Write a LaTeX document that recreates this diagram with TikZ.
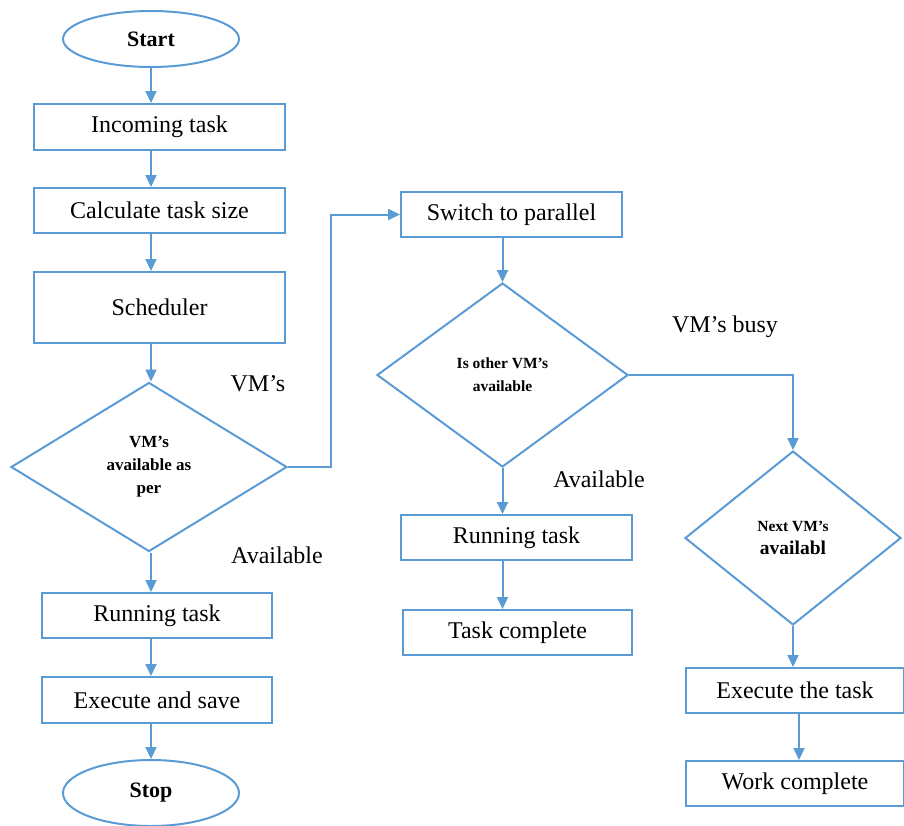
\documentclass[tikz,border=0pt]{standalone}
\usepackage{fontspec}
\setmainfont{Liberation Serif}
\usetikzlibrary{shapes.geometric,arrows.meta}
\definecolor{flowblue}{HTML}{5B9BD5}
\tikzset{
  boxnode/.style={draw=flowblue,line width=2pt,rectangle,inner sep=0pt,font=\fontsize{24}{27}\selectfont},
  termnode/.style={draw=flowblue,line width=2pt,ellipse,inner sep=0pt,font=\fontsize{22}{25}\selectfont\bfseries},
  decnode/.style={draw=flowblue,line width=2pt,diamond,inner sep=0pt,align=center,font=\fontsize{15.5}{23}\selectfont\bfseries},
  lbl/.style={inner sep=0pt,font=\fontsize{24}{27}\selectfont},
  arr/.style={draw=flowblue,line width=2pt,-{Triangle[width=11pt,length=12pt]}}
}
\begin{document}
\begin{tikzpicture}[x=1pt,y=-1pt]
\useasboundingbox (0,0) rectangle (904,825);
% left column
\node[termnode,minimum width=176pt,minimum height=56pt] (start) at (151,39) {Start};
\node[boxnode,minimum width=251pt,minimum height=46pt] (inc) at (159.5,127) {Incoming task};
\node[boxnode,minimum width=251pt,minimum height=45pt] (calc) at (159.5,210.5) {Calculate task size};
\node[boxnode,minimum width=251pt,minimum height=71pt] (sched) at (159.5,307.5) {Scheduler};
\node[decnode,minimum width=276pt,minimum height=169pt] (d1) at (149,467) {{\fontsize{17}{23}\selectfont VM’s}\\{\fontsize{17}{23}\selectfont available as}\\{\fontsize{17}{23}\selectfont per}};
\node[boxnode,minimum width=230pt,minimum height=45pt] (run1) at (157,615.5) {Running task};
\node[boxnode,minimum width=230pt,minimum height=46pt] (exe) at (157,700) {Execute and save};
\node[termnode,minimum width=176pt,minimum height=66pt] (stop) at (151,793) {Stop};
% middle column
\node[boxnode,minimum width=221pt,minimum height=45pt] (sw) at (511.5,214.5) {Switch to parallel};
\node[decnode,minimum width=251pt,minimum height=184pt] (d2) at (502.5,375) {Is other VM’s\\available};
\node[boxnode,minimum width=231pt,minimum height=45pt] (run2) at (516.5,537.5) {Running task};
\node[boxnode,minimum width=229pt,minimum height=45pt] (tc) at (517.5,632.5) {Task complete};
% right column
\node[decnode,minimum width=216pt,minimum height=174pt] (d3) at (793,538) {Next VM’s\\{\fontsize{19.5}{23}\selectfont availabl}};
\node[boxnode,minimum width=218pt,minimum height=45pt] (ext) at (795,690.5) {Execute the task};
\node[boxnode,minimum width=218pt,minimum height=45pt] (wc) at (795,783.5) {Work complete};
% labels
\node[lbl] (l1) at (258,384) {VM’s};
\node[lbl] (l2) at (277,555) {Available};
\node[lbl] (l3) at (599,479) {Available};
\node[lbl] (l4) at (725,327) {VM’s busy};
% connectors
\coordinate (c1) at (331,467);
\draw[arr] (start.south) -- (start.south |- inc.north);
\draw[arr] (start.south |- inc.south) -- (start.south |- calc.north);
\draw[arr] (start.south |- calc.south) -- (start.south |- sched.north);
\draw[arr] (start.south |- sched.south) -- (start.south |- d1.north);
\draw[arr] (start.south |- d1.south) -- (start.south |- run1.north);
\draw[arr] (start.south |- run1.south) -- (start.south |- exe.north);
\draw[arr] (stop.north |- exe.south) -- (stop.north);
\draw[arr] (d1.east) -- (c1) |- (sw.west);
\draw[arr] (d2.north |- sw.south) -- (d2.north);
\draw[arr] (d2.south) -- (d2.south |- run2.north);
\draw[arr] (d2.south |- run2.south) -- (d2.south |- tc.north);
\draw[arr] (d2.east) -| (d3.north);
\draw[arr] (d3.south) -- (d3.south |- ext.north);
\draw[arr] ([xshift=6pt]d3.south |- ext.south) -- ([xshift=6pt]d3.south |- wc.north);
\end{tikzpicture}
\end{document}
